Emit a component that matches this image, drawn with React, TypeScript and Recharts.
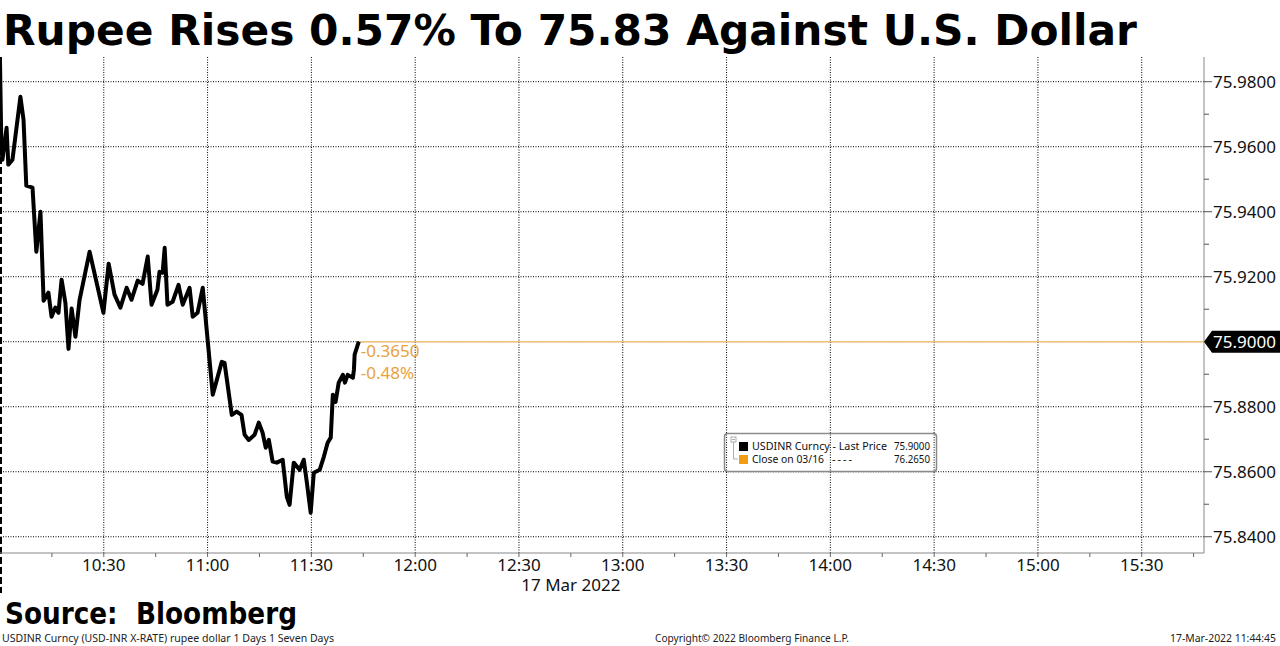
import { LineChart, Line, XAxis, YAxis, ReferenceLine, ReferenceDot } from 'recharts'

// minutes since midnight, 17 Mar 2022 intraday
const timeMinutes = [
  600.0, 600.4, 600.7, 601.9, 602.4, 603.6, 605.9, 606.8, 607.6, 609.4,
  610.5, 611.7, 612.6, 614.0, 614.9, 616.0, 616.9, 617.8, 618.9, 619.8,
  620.7, 621.8, 623.0, 625.9, 629.9, 631.4, 633.1, 634.8, 636.6, 638.0,
  639.8, 641.2, 642.7, 643.8, 645.5, 646.1, 647.0, 647.6, 648.4, 649.9,
  651.6, 652.8, 654.8, 655.7, 657.1, 658.6, 661.5, 664.1, 664.9, 667.0,
  668.4, 669.8, 670.7, 671.9, 673.6, 674.8, 675.9, 676.8, 677.7, 678.8,
  680.0, 681.7, 682.9, 683.7, 684.9, 686.6, 687.8, 688.7, 689.8, 690.7,
  692.4, 693.6, 694.7, 695.6, 696.2, 697.0, 697.9, 699.1, 699.7, 700.5,
  702.0, 702.3, 702.5, 703.7,
]

const usdInr = [
  75.9862, 75.96, 75.956, 75.9658, 75.9545, 75.956, 75.9754, 75.9683, 75.948, 75.9474,
  75.9277, 75.94, 75.9126, 75.9151, 75.9077, 75.9105, 75.9089, 75.9191, 75.912, 75.8978,
  75.9102, 75.9015, 75.9129, 75.9277, 75.9089, 75.924, 75.9145, 75.9105, 75.9166, 75.9129,
  75.9188, 75.9178, 75.9262, 75.9114, 75.916, 75.9215, 75.9212, 75.9289, 75.9114, 75.9123,
  75.9175, 75.9114, 75.9166, 75.9077, 75.9089, 75.9166, 75.8837, 75.8938, 75.8935, 75.8775,
  75.8785, 75.8775, 75.8714, 75.8698, 75.8714, 75.8751, 75.872, 75.8674, 75.8698, 75.8631,
  75.8628, 75.8637, 75.8523, 75.8498, 75.8628, 75.8606, 75.8637, 75.8566, 75.8474, 75.8597,
  75.8606, 75.8646, 75.8689, 75.8705, 75.8837, 75.8815, 75.8874, 75.8898, 75.8874, 75.8898,
  75.8889, 75.8914, 75.896, 75.9,
]

const xTicks = [
  615, 630, 645, 660, 675, 690, 705, 720, 735, 750, 765, 780,
  795, 810, 825, 840, 855, 870, 885, 900, 915, 930, 945,
]
const gridTimes = [630, 660, 690, 720, 750, 780, 810, 840, 870, 900, 930]
const yTicks = [
  75.84, 75.85, 75.86, 75.87, 75.88, 75.89, 75.9, 75.91,
  75.92, 75.93, 75.94, 75.95, 75.96, 75.97, 75.98,
]
const gridPrices = [75.84, 75.86, 75.88, 75.9, 75.92, 75.94, 75.96, 75.98]

const lastPrice = 75.9
const prevClose = 76.265
const dateLabel = '17 Mar 2022'
const dateTick = 765

const rateData = timeMinutes.map((t, i) => ({ t, v: usdInr[i] }))
const lastTime = timeMinutes[timeMinutes.length - 1]
const change = lastPrice - prevClose
const changePct = (change / prevClose) * 100

const font = '"Noto Sans", "DejaVu Sans", sans-serif'
const orange = '#e8a23a'

const fmtTime = (m: number) => `${Math.floor(m / 60)}:${String(m % 60).padStart(2, '0')}`

const TimeTick = (props: any) => {
  const { x, y, payload } = props
  const v = payload.value as number
  return (
    <g>
      {v % 30 === 0 && (
        <text x={x} y={y + 12} textAnchor="middle" fontSize={17} fontFamily={font} fill="#111">
          {fmtTime(v)}
        </text>
      )}
      {v === dateTick && (
        <text x={x} y={y + 32} textAnchor="middle" fontSize={17} fontFamily={font} fill="#111">
          {dateLabel}
        </text>
      )}
    </g>
  )
}

const PriceTick = (props: any) => {
  const { x, y, payload } = props
  const v = payload.value as number
  const major = Math.round(v * 100) % 2 === 0
  if (Math.abs(v - lastPrice) < 1e-6) {
    return (
      <g>
        <polygon
          points={`${x},${y} ${x + 8},${y - 11} ${x + 76},${y - 11} ${x + 76},${y + 11} ${x + 8},${y + 11}`}
          fill="#000"
        />
        <text x={x + 9} y={y} dy="0.36em" fontSize={17} fontFamily={font} fill="#fff">
          {v.toFixed(4)}
        </text>
      </g>
    )
  }
  return (
    <g>
      <line x1={x} y1={y} x2={x + (major ? 8 : 5)} y2={y} stroke="#555" />
      {major && (
        <text x={x + 9} y={y} dy="0.36em" fontSize={17} fontFamily={font} fill="#111">
          {v.toFixed(4)}
        </text>
      )}
    </g>
  )
}

export default function App() {
  return (
    <div style={{ position: 'fixed', left: 0, top: 0, width: 1280, height: 646, background: '#fff' }}>
      <LineChart width={1280} height={646} data={rateData} margin={{ top: 57, right: 0, bottom: 0, left: 0 }}>
        <XAxis
          dataKey="t"
          type="number"
          domain={[600, 948]}
          ticks={xTicks}
          interval={0}
          allowDataOverflow
          height={93}
          tick={<TimeTick />}
          tickSize={4}
          tickMargin={2}
          tickLine={{ stroke: '#666' }}
          axisLine={{ stroke: '#888' }}
        />
        <YAxis
          orientation="right"
          type="number"
          domain={[75.835, 75.9876]}
          ticks={yTicks}
          interval={0}
          allowDataOverflow
          width={76}
          tick={<PriceTick />}
          tickSize={0}
          tickMargin={0}
          tickLine={false}
          axisLine={{ stroke: '#888' }}
        />
        {gridPrices.map((p) => (
          <ReferenceLine key={`h${p}`} y={p} stroke="#000" strokeDasharray="1 1.5" />
        ))}
        {gridTimes.map((t) => (
          <ReferenceLine key={`v${t}`} x={t} stroke="#000" strokeDasharray="1 1.5" />
        ))}
        <ReferenceLine
          x={600}
          shape={(p: any) => (
            <line
              x1={p.x1 + 1}
              y1={Math.min(p.y1, p.y2)}
              x2={p.x2 + 1}
              y2={Math.max(p.y1, p.y2) + 40}
              stroke="#000"
              strokeWidth={2}
              strokeDasharray="7 3"
            />
          )}
        />
        <ReferenceLine
          segment={[
            { x: lastTime, y: lastPrice },
            { x: 948, y: lastPrice },
          ]}
          stroke="#f4c47a"
          strokeWidth={1.5}
        />
        <Line
          dataKey="v"
          type="linear"
          stroke="#000"
          strokeWidth={4}
          strokeLinejoin="round"
          dot={false}
          isAnimationActive={false}
        />
        <ReferenceDot
          x={lastTime}
          y={lastPrice}
          r={0}
          shape={(p: any) => (
            <g>
              <text x={p.cx + 2} y={p.cy + 15} fontSize={17} fontFamily={font} fill={orange}>
                {change.toFixed(4)}
              </text>
              <text x={p.cx + 2} y={p.cy + 37} fontSize={17} fontFamily={font} fill={orange}>
                {changePct.toFixed(2)}%
              </text>
            </g>
          )}
        />
      </LineChart>

      <svg
        width={1280}
        height={646}
        style={{ position: 'absolute', left: 0, top: 0, pointerEvents: 'none' }}
      >
        <text
          x={3}
          y={45}
          fontSize={42}
          fontWeight="bold"
          fontFamily='"DejaVu Sans", sans-serif'
          textLength={1134}
          lengthAdjust="spacingAndGlyphs"
          fill="#000"
        >
          Rupee Rises 0.57% To 75.83 Against U.S. Dollar
        </text>

        {/* legend box */}
        <rect x={724.5} y={433.5} width={212} height={38} rx={3} fill="none" stroke="#8a8a8a" strokeWidth={1.5} />
        <rect x={731} y={437} width={5} height={5} fill="#fff" stroke="#999" strokeWidth={0.8} />
        <line x1={732} y1={439.5} x2={735} y2={439.5} stroke="#999" strokeWidth={0.8} />
        <polyline points="733.5,442 733.5,459 738,459" fill="none" stroke="#999" strokeWidth={0.8} />
        <rect x={739} y={442} width={9} height={9} fill="#000" />
        <rect x={739} y={455} width={9} height={9} fill="#f39c12" />
        <text x={752} y={450} fontSize={11} fontFamily={font} fill="#111" textLength={135} lengthAdjust="spacingAndGlyphs">
          USDINR Curncy - Last Price
        </text>
        <text x={894} y={450} fontSize={11} fontFamily={font} fill="#111" textLength={36} lengthAdjust="spacingAndGlyphs">
          {lastPrice.toFixed(4)}
        </text>
        <text x={752} y={463} fontSize={11} fontFamily={font} fill="#111" textLength={72} lengthAdjust="spacingAndGlyphs">
          Close on 03/16
        </text>
        <text x={832} y={463} fontSize={11} fontFamily={font} fill="#111" textLength={20} lengthAdjust="spacing">
          ----
        </text>
        <text x={894} y={463} fontSize={11} fontFamily={font} fill="#111" textLength={36} lengthAdjust="spacingAndGlyphs">
          {prevClose.toFixed(4)}
        </text>

        <text
          x={5}
          y={624}
          fontSize={30}
          fontWeight="bold"
          fontFamily='"DejaVu Sans", sans-serif'
          textLength={292}
          lengthAdjust="spacingAndGlyphs"
          fill="#000"
          style={{ whiteSpace: 'pre' }}
        >
          Source:  Bloomberg
        </text>
        <text x={2} y={642} fontSize={10.5} fontFamily={font} fill="#222" textLength={332} lengthAdjust="spacingAndGlyphs">
          USDINR Curncy (USD-INR X-RATE) rupee dollar 1 Days 1 Seven Days
        </text>
        <text x={655} y={642} fontSize={10.5} fontFamily={font} fill="#222" textLength={194} lengthAdjust="spacingAndGlyphs">
          Copyright© 2022 Bloomberg Finance L.P.
        </text>
        <text x={1170} y={642} fontSize={10.5} fontFamily={font} fill="#222" textLength={106} lengthAdjust="spacingAndGlyphs">
          17-Mar-2022 11:44:45
        </text>
      </svg>
    </div>
  )
}
